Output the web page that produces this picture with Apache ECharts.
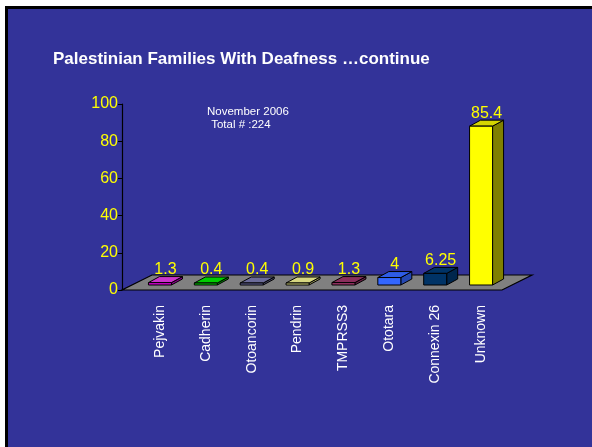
<!DOCTYPE html>
<html>
<head>
<meta charset="utf-8">
<script src="https://cdn.jsdelivr.net/npm/echarts@6/dist/echarts.min.js"></script>
<style>
html,body{margin:0;padding:0;background:#ffffff;overflow:hidden;}
#frame{position:absolute;left:5px;top:6px;width:620px;height:470px;background:#333399;
  border-left:3px solid #000000;border-top:3px solid #000000;}
#chart{position:absolute;left:0;top:0;width:592px;height:447px;}
</style>
</head>
<body>
<div id="frame"></div>
<div id="chart"></div>
<script>
// ---- data ----
const categories = ['Pejvakin', 'Cadherin', 'Otoancorin', 'Pendrin', 'TMPRSS3', 'Ototara', 'Connexin 26', 'Unknown'];
const values = [1.3, 0.4, 0.4, 0.9, 1.3, 4, 6.25, 85.4];
const valueLabels = ['1.3', '0.4', '0.4', '0.9', '1.3', '4', '6.25', '85.4'];
const yTicks = [0, 20, 40, 60, 80, 100];
const titleText = 'Palestinian Families With Deafness …continue';
const noteLines = ['November 2006', ' Total # :224'];

// ---- styles ----
const frontColors = ['#CC00CC', '#00CC00', '#666699', '#CCCC77', '#993366', '#3366FF', '#003366', '#FFFF00'];
const topColors   = ['#CC33CC', '#00CC00', '#6B6B99', '#D6D680', '#8A2E5C', '#2E5CE6', '#003366', '#D6D600'];
const sideColors  = ['#8A008A', '#008A00', '#474766', '#99995A', '#661F44', '#2447B3', '#00264D', '#808000'];

const chart = echarts.init(document.getElementById('chart'), null, {renderer: 'canvas'});

const BAR_W = 23, DX = 11, DY = 6, LIFT = 5;

function renderBar(params, api) {
  const i = params.dataIndex;
  const base = api.coord([api.value(0), 0]);
  const top = api.coord([api.value(0), api.value(1)]);
  const x = base[0];
  const y0 = base[1] - LIFT;
  let y1 = top[1] - LIFT;
  if (y0 - y1 < 2) y1 = y0 - 2;
  const l = x - BAR_W / 2, r = x + BAR_W / 2;
  const stroke = {stroke: '#000000', lineWidth: 1};
  return {
    type: 'group',
    children: [
      {type: 'polygon', shape: {points: [[r, y1], [r, y0], [r + DX, y0 - DY], [r + DX, y1 - DY]]},
       style: Object.assign({fill: sideColors[i]}, stroke)},
      {type: 'polygon', shape: {points: [[l, y1], [r, y1], [r + DX, y1 - DY], [l + DX, y1 - DY]]},
       style: Object.assign({fill: topColors[i]}, stroke)},
      {type: 'rect', shape: {x: l, y: y1, width: BAR_W, height: y0 - y1},
       style: Object.assign({fill: frontColors[i]}, stroke)},
      {type: 'text', x: x + DX / 2, y: y1 - DY + 1,
       style: {text: valueLabels[i], fill: '#FFFF00', font: '16px "Liberation Sans", Arial, sans-serif',
               align: 'center', verticalAlign: 'bottom'}}
    ]
  };
}

function renderFloor(params, api) {
  const cs = params.coordSys;
  const y0 = api.coord([0, 0])[1];
  const xl = cs.x - 15, xr = cs.x + cs.width - 2;
  return {
    type: 'polygon',
    shape: {points: [[xl, y0], [xr, y0], [xr + 30, y0 - 15], [xl + 30, y0 - 15]]},
    style: {fill: '#808080', stroke: '#000000', lineWidth: 1.2}
  };
}

chart.setOption({
  backgroundColor: 'transparent',
  animation: false,
  graphic: [
    {type: 'text', left: 53, top: 51, style: {text: titleText, fill: '#ffffff',
      font: 'bold 17px "Liberation Sans", Arial, sans-serif'}},
    {type: 'text', left: 207, top: 106, style: {text: noteLines[0], fill: '#ffffff',
      font: '11.5px "Liberation Sans", Arial, sans-serif'}},
    {type: 'text', left: 208, top: 119, style: {text: noteLines[1], fill: '#ffffff',
      font: '11.5px "Liberation Sans", Arial, sans-serif'}}
  ],
  grid: {left: 137, top: 104, width: 367, bottom: 157, containLabel: false},
  xAxis: {
    type: 'category',
    data: categories,
    axisLine: {show: false},
    axisTick: {show: false},
    axisLabel: {rotate: 90, margin: 15, color: '#ffffff', fontSize: 14, fontFamily: '"Liberation Sans", Arial, sans-serif', interval: 0}
  },
  yAxis: {
    type: 'value',
    min: 0, max: 100, interval: 20,
    offset: 15,
    axisLine: {show: true, lineStyle: {color: '#000000', width: 1.2}},
    axisTick: {show: true, length: 4, lineStyle: {color: '#000000'}},
    splitLine: {show: false},
    axisLabel: {color: '#FFFF00', fontSize: 16, margin: 4, fontFamily: '"Liberation Sans", Arial, sans-serif',
      formatter: function (v) { return yTicks.indexOf(v) >= 0 ? String(v) : ''; }}
  },
  series: [
    {type: 'custom', renderItem: renderFloor, data: [[0, 0]], z: 1, silent: true},
    {type: 'custom', renderItem: renderBar, data: categories.map((c, i) => [i, values[i]]), z: 2,
     encode: {x: 0, y: 1}}
  ]
});
</script>
</body>
</html>
